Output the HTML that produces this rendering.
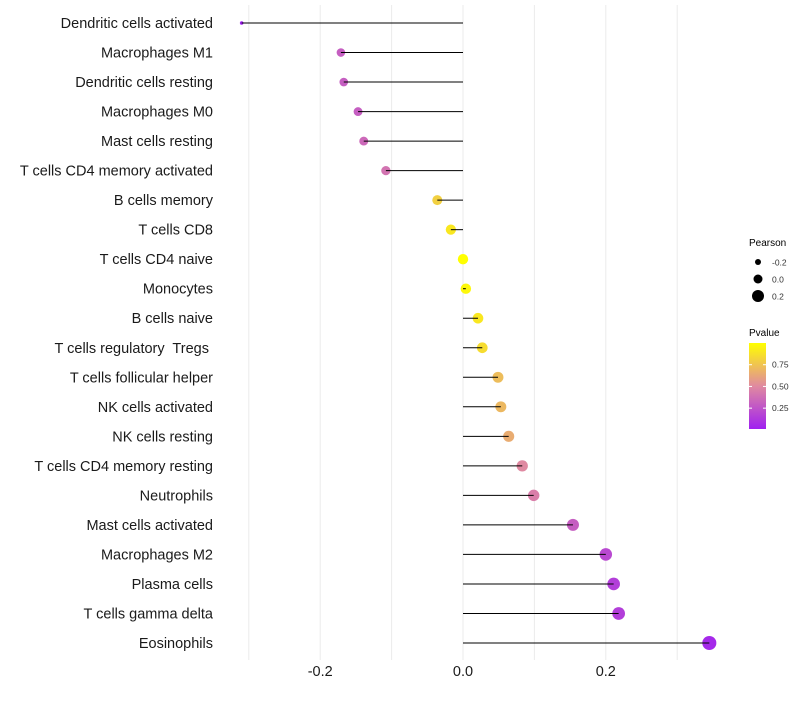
<!DOCTYPE html>
<html><head><meta charset="utf-8"><style>
body{margin:0;background:#fff;font-family:"Liberation Sans",sans-serif}
text{white-space:pre}
</style></head><body>
<svg id="c" width="800" height="700" xmlns="http://www.w3.org/2000/svg"></svg>
<script>
const categories=["Dendritic cells activated","Macrophages M1","Dendritic cells resting","Macrophages M0","Mast cells resting","T cells CD4 memory activated","B cells memory","T cells CD8","T cells CD4 naive","Monocytes","B cells naive","T cells regulatory  Tregs ","T cells follicular helper","NK cells activated","NK cells resting","T cells CD4 memory resting","Neutrophils","Mast cells activated","Macrophages M2","Plasma cells","T cells gamma delta","Eosinophils"];
const pearson=[-0.31,-0.171,-0.167,-0.147,-0.139,-0.108,-0.036,-0.017,0,0.004,0.021,0.027,0.049,0.053,0.064,0.083,0.099,0.154,0.2,0.211,0.218,0.345];
const pvalues=[0.01,0.3,0.3,0.3,0.35,0.4,0.8,0.9,1.0,0.97,0.9,0.85,0.72,0.7,0.65,0.5,0.45,0.3,0.2,0.15,0.15,0.05];
const xTicks=[-0.2,0,0.2];
const xTickLabels=["-0.2","0.0","0.2"];
const xGrid=[-0.3,-0.2,-0.1,0,0.1,0.2,0.3];
const sizeLegend=[-0.2,0,0.2];
const colorTicks=[0.25,0.5,0.75];

const NS="http://www.w3.org/2000/svg";
const svg=document.getElementById('c');
function mk(t,a,p){const e=document.createElementNS(NS,t);for(const k in a)e.setAttribute(k,a[k]);(p||svg).appendChild(e);return e;}
const x=v=>463+v*714;
const y=i=>23+i*(620/(categories.length-1));
const pminV=Math.min(...pearson);
const r=v=>v<=pminV?1.8:5.2+v*5.3;
const pmin=Math.min(...pvalues),pmax=Math.max(...pvalues);
function col(p){let t=(p-pmin)/(pmax-pmin);const s=[[160,32,240],[224,138,160],[255,255,0]];
 let a,b,u;if(t<0.5){a=s[0];b=s[1];u=t/0.5}else{a=s[1];b=s[2];u=(t-0.5)/0.5}
 return `rgb(${a.map((c,i)=>Math.round(c+(b[i]-c)*u)).join(',')})`;}
xGrid.forEach(g=>{const l=mk('line',{x1:x(g),x2:x(g),y1:5,y2:660,stroke:'#ebebeb','stroke-width':1});

});
categories.forEach((c,i)=>{
 const t=mk('text',{x:213,y:y(i)+5,'text-anchor':'end','font-size':14.5,fill:'#1a1a1a'});t.textContent=c;
 
 
 const d=mk('circle',{cx:x(pearson[i]),cy:y(i),r:r(pearson[i]),fill:col(pvalues[i])});
 
 
 const s=mk('line',{x1:x(0),x2:x(pearson[i]),y1:y(i),y2:y(i),stroke:'#000','stroke-width':1});
 
 
});
xTicks.forEach((v,i)=>{const t=mk('text',{x:x(v),y:676,'text-anchor':'middle','font-size':14.5,fill:'#1a1a1a'});t.textContent=xTickLabels[i];

});
let t=mk('text',{x:749,y:246,'font-size':10,fill:'#000'});t.textContent='Pearson';


sizeLegend.forEach((v,i)=>{const cy=262+i*17;
 const c=mk('circle',{cx:758,cy:cy,r:4.5+v*7.5,fill:'#000'});
 
 
 const l=mk('text',{x:772,y:cy+3.5,'font-size':8.5,fill:'#333'});l.textContent=v===0?'0.0':String(v);
 
 });
t=mk('text',{x:749,y:336,'font-size':10,fill:'#000'});t.textContent='Pvalue';


const defs=mk('defs',{});const lg=mk('linearGradient',{id:'g',x1:0,y1:1,x2:0,y2:0},defs);
[0,0.25,0.5,0.75,1].forEach(o=>mk('stop',{offset:o,'stop-color':col(pmin+o*(pmax-pmin))},lg));
const bar=mk('rect',{x:749,y:343,width:17,height:86,fill:'url(#g)'});


const cy=v=>429-(v-pmin)/(pmax-pmin)*86;
colorTicks.forEach(v=>{mk('line',{x1:749,x2:752,y1:cy(v),y2:cy(v),stroke:'#fff'});mk('line',{x1:763,x2:766,y1:cy(v),y2:cy(v),stroke:'#fff'});
 const l=mk('text',{x:772,y:cy(v)+3,'font-size':8.5,fill:'#333'});l.textContent=v.toFixed(2);
 
 });
</script>
</body></html>
